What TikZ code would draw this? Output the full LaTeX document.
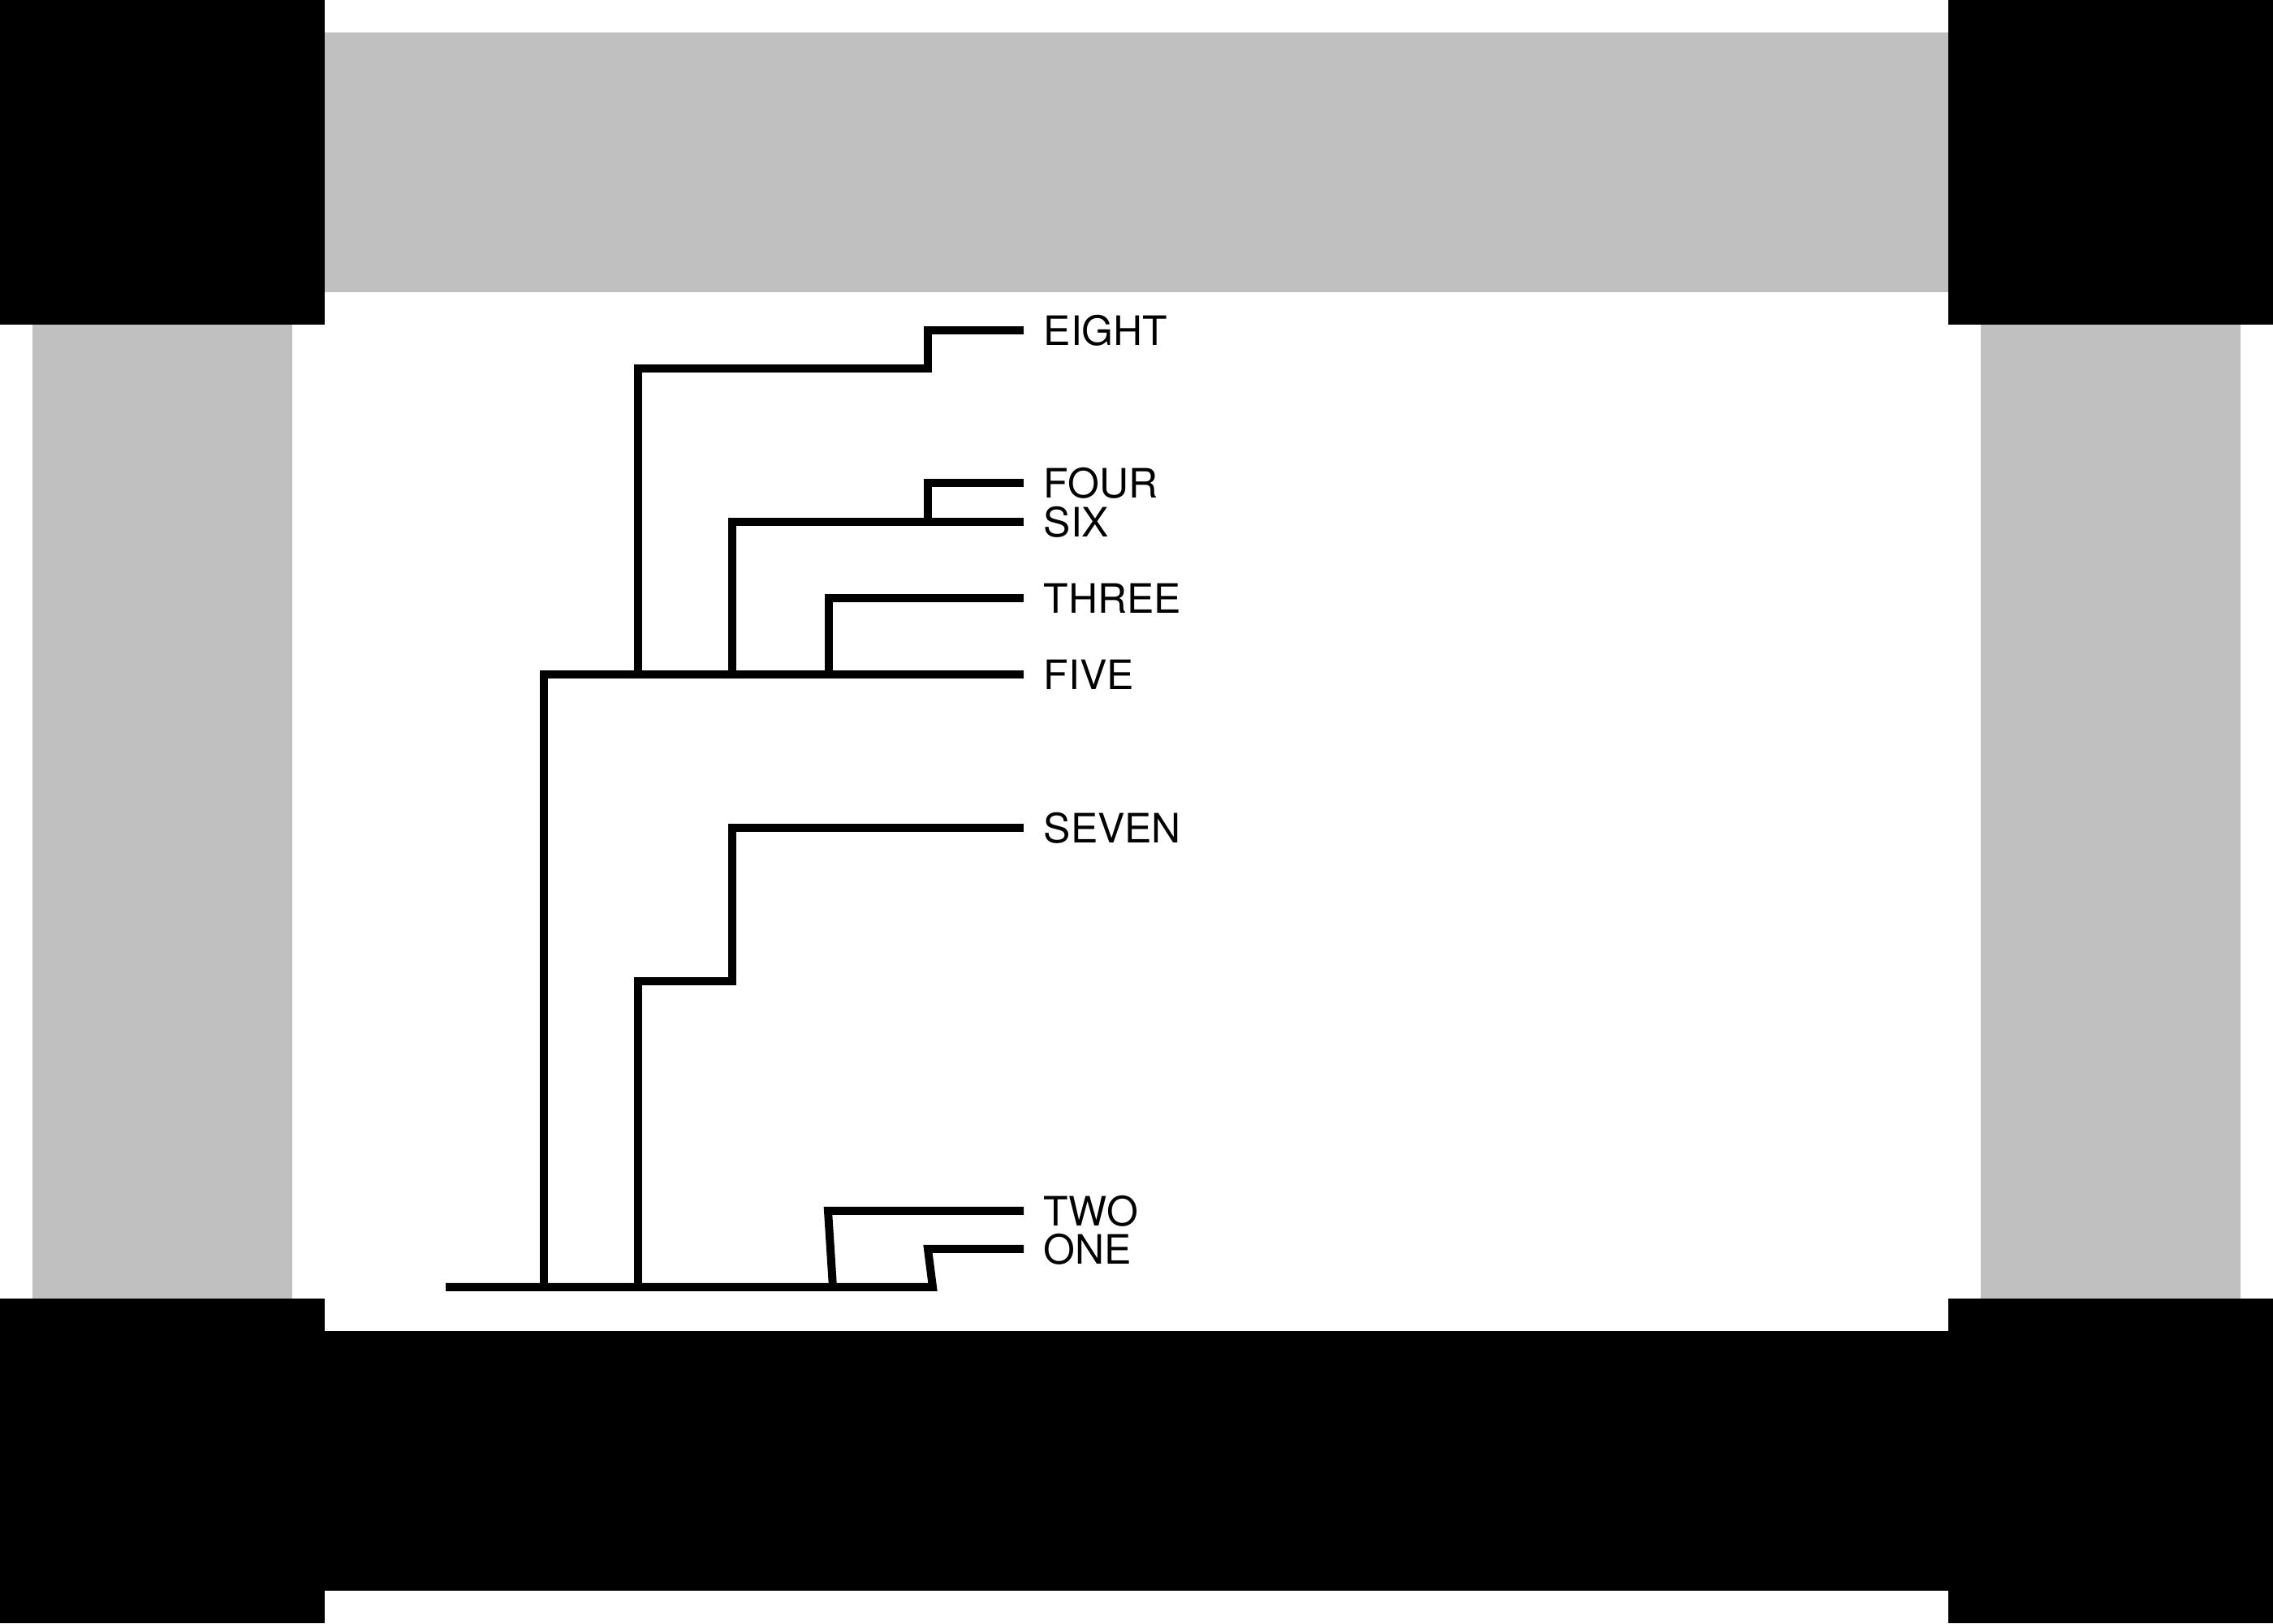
\documentclass[tikz,border=0pt]{standalone}
\usepackage{fontspec}
\setmainfont{TeX Gyre Heros}
\definecolor{bandgray}{RGB}{192,192,192}
\tikzset{
    branch/.style={line width=1mm},
    leaf/.style={anchor=west, inner sep=0pt, font=\fontsize{14.2}{17}\selectfont}
}

\begin{document}
\begin{tikzpicture}
    \useasboundingbox (0,0) rectangle (28,20);

    % Draw frame
    \fill[black] (0,16) rectangle (4,20);
    \fill[black] (24,16) rectangle (28,20);
    \fill[black] (0,0) rectangle (4,4);
    \fill[black] (24,0) rectangle (28,4);
    \fill[black] (4,0.4) rectangle (24,3.6);
    \fill[bandgray] (4,16.4) rectangle (24,19.6);
    \fill[bandgray] (0.4,4) rectangle (3.6,16);
    \fill[bandgray] (24.4,4) rectangle (27.6,16);

    % Leaf labels
    \foreach \name/\y in {EIGHT/15.93, FOUR/14.05, SIX/13.57, THREE/12.63, FIVE/11.69, SEVEN/9.80, TWO/5.08, ONE/4.61}
        \node[leaf] (\name) at (12.85,\y) {\name};

    % Branch points
    \coordinate (root) at (5.49,4.14);
    \coordinate (top) at (6.70,4.14);
    \coordinate (low) at (7.86,4.14);
    \coordinate (up) at (7.86,11.69);
    \coordinate (mid) at (9.02,11.69);
    \coordinate (small) at (10.21,11.69);

    % Draw root and main stem
    \draw[branch] (root) -- (11.49,4.14) -- (11.43,4.61) -- ([xshift=-2.4mm]ONE.west);
    \draw[branch] (top) -- (6.70,11.69) -- ([xshift=-2.4mm]FIVE.west);

    % Upper clade
    \draw[branch] (up) |- (11.43,15.46) |- ([xshift=-2.4mm]EIGHT.west);
    \draw[branch] (mid) |- ([xshift=-2.4mm]SIX.west);
    \draw[branch] (11.43,13.57) |- ([xshift=-2.4mm]FOUR.west);
    \draw[branch] (small) |- ([xshift=-2.4mm]THREE.west);

    % Lower clade
    \draw[branch] (low) |- (9.02,7.91) |- ([xshift=-2.4mm]SEVEN.west);
    \draw[branch] (10.26,4.14) -- (10.20,5.08) -- ([xshift=-2.4mm]TWO.west);
\end{tikzpicture}
\end{document}
